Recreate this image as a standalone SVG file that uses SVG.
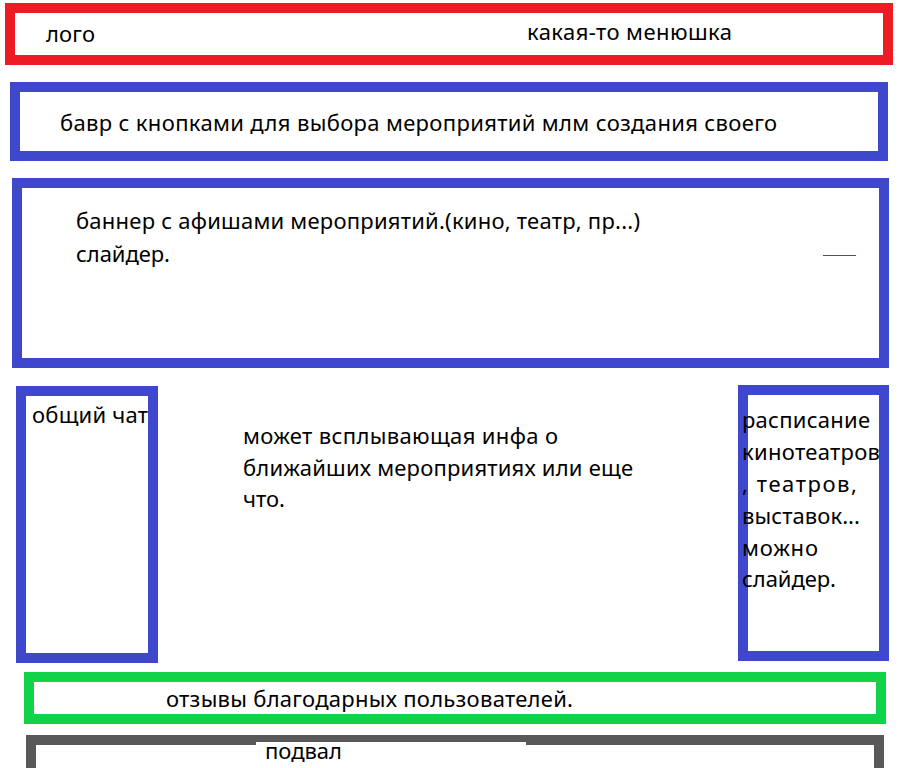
<svg xmlns="http://www.w3.org/2000/svg" width="900" height="768" viewBox="0 0 900 768">
<style>
.box{fill:none;stroke-width:10}
.red{stroke:#ED1C24}
.blue{stroke:#3F48CC}
.green{stroke:#12D24A}
.gray{stroke:#595959}
text{font-family:"Noto Sans","Open Sans",sans-serif;font-size:22px;fill:#000}
</style>
<rect width="900" height="768" fill="#fff"/>
<g id="header">
<rect class="box red" x="10" y="8" width="878" height="52"/>
<text x="46" y="42" textLength="49">лого</text>
<text x="527" y="40" textLength="205">какая-то менюшка</text>
</g>
<g id="buttons-bar">
<rect class="box blue" x="15" y="87" width="868" height="69"/>
<text x="60" y="131" textLength="717">бавр с кнопками для выбора мероприятий млм создания своего</text>
</g>
<g id="banner">
<rect class="box blue" x="17" y="183" width="867" height="180"/>
<text x="76" y="229" textLength="564">баннер с афишами мероприятий.(кино, театр, пр...)</text>
<text x="76" y="262" textLength="94">слайдер.</text>
<line x1="823" y1="255.5" x2="856" y2="255.5" stroke="#4a4a8a" stroke-width="1"/>
</g>
<g id="chat">
<rect class="box blue" x="21" y="391" width="132" height="267"/>
<text x="32" y="423" textLength="116">общий чат</text>
</g>
<g id="popup-info">
<text x="243" y="444" textLength="315">может всплывающая инфа о</text>
<text x="243" y="476" textLength="390">ближайших мероприятиях или еще</text>
<text x="243" y="507" textLength="42">что.</text>
</g>
<g id="schedule">
<rect class="box blue" x="743" y="390" width="141" height="266"/>
<text x="742" y="428" textLength="128">расписание</text>
<text x="742" y="460" textLength="138">кинотеатров</text>
<text x="742" y="492" textLength="115">, театров,</text>
<text x="742" y="524" textLength="118">выставок...</text>
<text x="742" y="556" textLength="76">можно</text>
<text x="742" y="587" textLength="94">слайдер.</text>
</g>
<g id="reviews">
<rect class="box green" x="29" y="677" width="852" height="42"/>
<text x="166" y="707" textLength="407">отзывы благодарных пользователей.</text>
</g>
<g id="footer">
<rect class="box gray" x="31" y="740" width="848" height="50"/>
<rect x="256" y="742" width="270" height="10" fill="#fff"/>
<text x="265" y="759" textLength="77">подвал</text>
</g>
<g id="connectors"></g>
</svg>
